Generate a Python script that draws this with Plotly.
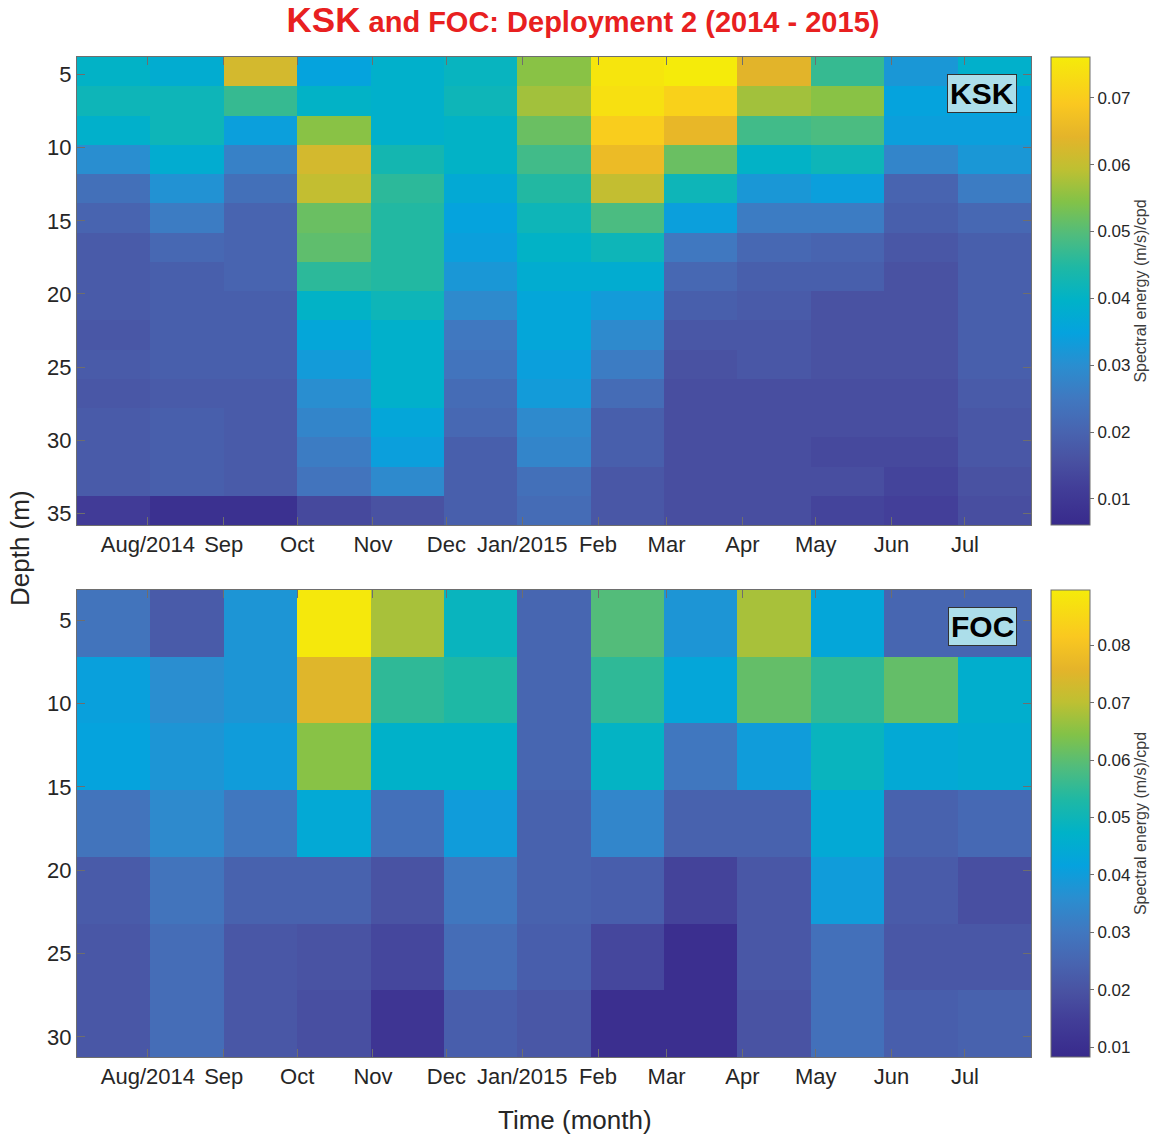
import plotly.graph_objects as go

# ---------------- data ----------------
months = ["2014-07-18", "2014-08-17", "2014-09-16", "2014-10-16", "2014-11-15",
          "2014-12-15", "2015-01-14", "2015-02-13", "2015-03-15", "2015-04-14",
          "2015-05-14", "2015-06-13", "2015-07-13"]

ksk_depth = [4.8, 6.8, 8.8, 10.8, 12.8, 14.8, 16.8, 18.8, 20.8, 22.8, 24.8,
             26.8, 28.8, 30.8, 32.8, 34.8]
foc_depth = [5.2, 9.2, 13.2, 17.2, 21.2, 25.2, 29.2]

ksk_energy = [
    [0.040, 0.038, 0.062, 0.035, 0.039, 0.041, 0.055, 0.075, 0.076, 0.064, 0.047, 0.032, 0.039],
    [0.042, 0.042, 0.047, 0.040, 0.039, 0.042, 0.057, 0.074, 0.071, 0.057, 0.055, 0.035, 0.035],
    [0.039, 0.042, 0.034, 0.055, 0.039, 0.040, 0.052, 0.070, 0.065, 0.048, 0.049, 0.034, 0.034],
    [0.030, 0.038, 0.027, 0.062, 0.043, 0.040, 0.048, 0.066, 0.052, 0.040, 0.042, 0.028, 0.032],
    [0.023, 0.031, 0.023, 0.060, 0.046, 0.037, 0.045, 0.060, 0.042, 0.032, 0.034, 0.020, 0.026],
    [0.020, 0.026, 0.020, 0.052, 0.045, 0.035, 0.042, 0.049, 0.034, 0.026, 0.026, 0.019, 0.021],
    [0.018, 0.021, 0.020, 0.051, 0.045, 0.034, 0.040, 0.042, 0.025, 0.021, 0.020, 0.017, 0.019],
    [0.018, 0.019, 0.020, 0.046, 0.045, 0.032, 0.038, 0.038, 0.021, 0.019, 0.019, 0.016, 0.019],
    [0.018, 0.019, 0.019, 0.040, 0.042, 0.029, 0.036, 0.033, 0.019, 0.018, 0.016, 0.016, 0.019],
    [0.017, 0.019, 0.019, 0.036, 0.039, 0.025, 0.036, 0.029, 0.017, 0.017, 0.016, 0.016, 0.019],
    [0.018, 0.019, 0.019, 0.033, 0.039, 0.024, 0.034, 0.026, 0.016, 0.017, 0.016, 0.016, 0.019],
    [0.017, 0.018, 0.018, 0.030, 0.039, 0.022, 0.033, 0.022, 0.015, 0.015, 0.015, 0.015, 0.018],
    [0.018, 0.019, 0.018, 0.028, 0.036, 0.021, 0.029, 0.019, 0.015, 0.015, 0.015, 0.015, 0.017],
    [0.018, 0.019, 0.018, 0.026, 0.034, 0.019, 0.028, 0.019, 0.015, 0.015, 0.014, 0.014, 0.017],
    [0.018, 0.019, 0.018, 0.024, 0.029, 0.019, 0.023, 0.017, 0.015, 0.015, 0.015, 0.013, 0.016],
    [0.011, 0.008, 0.008, 0.014, 0.016, 0.019, 0.022, 0.017, 0.015, 0.015, 0.013, 0.012, 0.015],
]

foc_energy = [
    [0.029, 0.022, 0.038, 0.089, 0.068, 0.049, 0.025, 0.059, 0.038, 0.068, 0.043, 0.025, 0.025],
    [0.041, 0.036, 0.038, 0.075, 0.055, 0.053, 0.025, 0.055, 0.043, 0.061, 0.055, 0.061, 0.046],
    [0.042, 0.038, 0.040, 0.065, 0.047, 0.047, 0.025, 0.048, 0.030, 0.040, 0.049, 0.044, 0.045],
    [0.029, 0.035, 0.030, 0.044, 0.028, 0.040, 0.024, 0.034, 0.024, 0.024, 0.044, 0.024, 0.026],
    [0.022, 0.029, 0.024, 0.024, 0.020, 0.030, 0.024, 0.023, 0.016, 0.021, 0.040, 0.022, 0.019],
    [0.021, 0.027, 0.021, 0.020, 0.017, 0.027, 0.023, 0.017, 0.010, 0.021, 0.028, 0.021, 0.021],
    [0.021, 0.027, 0.021, 0.019, 0.012, 0.023, 0.021, 0.010, 0.010, 0.020, 0.028, 0.023, 0.024],
]

ksk_range = [0.0061, 0.0761]
foc_range = [0.0083, 0.0896]
ksk_cticks = [0.01, 0.02, 0.03, 0.04, 0.05, 0.06, 0.07]
foc_cticks = [0.01, 0.02, 0.03, 0.04, 0.05, 0.06, 0.07, 0.08]
ksk_yticks = [5, 10, 15, 20, 25, 30, 35]
foc_yticks = [5, 10, 15, 20, 25, 30]
month_ticks = ["2014-08-01", "2014-09-01", "2014-10-01", "2014-11-01", "2014-12-01",
               "2015-01-01", "2015-02-01", "2015-03-01", "2015-04-01", "2015-05-01",
               "2015-06-01", "2015-07-01"]
month_labels = ["Aug/2014", "Sep", "Oct", "Nov", "Dec", "Jan/2015", "Feb", "Mar",
                "Apr", "May", "Jun", "Jul"]

# ---------------- style ----------------
parula_like = [
    [0.00, "rgb(56,42,140)"],
    [0.08, "rgb(66,62,152)"],
    [0.14, "rgb(73,82,162)"],
    [0.20, "rgb(72,100,176)"],
    [0.27, "rgb(64,120,192)"],
    [0.34, "rgb(42,142,208)"],
    [0.41, "rgb(5,162,222)"],
    [0.48, "rgb(0,178,200)"],
    [0.55, "rgb(30,184,165)"],
    [0.62, "rgb(80,188,125)"],
    [0.69, "rgb(130,194,72)"],
    [0.76, "rgb(190,192,50)"],
    [0.83, "rgb(228,180,42)"],
    [0.90, "rgb(250,200,32)"],
    [1.00, "rgb(245,235,10)"],
]
FONT = "Liberation Sans Narrow, Arial Narrow, Liberation Sans, Arial, sans-serif"
TXT = "rgb(38,38,38)"
AX = "rgb(110,110,110)"

W, H = 1166, 1135
L, R, T, B = 77, 135, 57, 78
PH = H - T - B
top_dom = [1 - (525 - 57) / PH, 1.0]
bot_dom = [0.0, (1057 - 590) / PH]


def cbar(dom, ticks):
    return dict(
        x=(1051 - L) / (W - L - R), xanchor="left", xpad=0, ypad=0,
        y=(dom[0] + dom[1]) / 2, yanchor="middle",
        len=dom[1] - dom[0], lenmode="fraction",
        thickness=39, thicknessmode="pixels",
        outlinecolor=AX, outlinewidth=1,
        tickvals=ticks, tickformat=".2f",
        ticks="outside", ticklen=4, tickcolor=AX,
        tickfont=dict(family=FONT, size=17, color=TXT),
        title=dict(text="Spectral energy (m/s)/cpd", side="right",
                   font=dict(family=FONT, size=16, color="rgb(60,60,60)")),
    )


fig = go.Figure()
fig.add_trace(go.Heatmap(
    x=months, y=ksk_depth, z=ksk_energy, colorscale=parula_like,
    zmin=ksk_range[0], zmax=ksk_range[1], xaxis="x", yaxis="y",
    colorbar=cbar(top_dom, ksk_cticks),
))
fig.add_trace(go.Heatmap(
    x=months, y=foc_depth, z=foc_energy, colorscale=parula_like,
    zmin=foc_range[0], zmax=foc_range[1], xaxis="x2", yaxis="y2",
    colorbar=cbar(bot_dom, foc_cticks),
))

xcommon = dict(
    tickvals=month_ticks, ticktext=month_labels, ticks="inside", ticklen=8,
    tickcolor=AX, showline=True, linecolor=AX, linewidth=1, mirror="ticks",
    tickfont=dict(family=FONT, size=22, color=TXT), showgrid=False, zeroline=False,
)
ycommon = dict(
    autorange="reversed", ticks="inside", ticklen=8, tickcolor=AX,
    showline=True, linecolor=AX, linewidth=1, mirror="ticks",
    tickfont=dict(family=FONT, size=22, color=TXT), showgrid=False, zeroline=False,
)

fig.update_layout(
    width=W, height=H,
    margin=dict(l=L, r=R, t=T, b=B),
    paper_bgcolor="white", plot_bgcolor="white",
    showlegend=False,
    xaxis=dict(domain=[0, 1], anchor="y", **xcommon),
    yaxis=dict(domain=top_dom, anchor="x", tickvals=ksk_yticks, **ycommon),
    xaxis2=dict(domain=[0, 1], anchor="y2", **xcommon),
    yaxis2=dict(domain=bot_dom, anchor="x2", tickvals=foc_yticks, **ycommon),
    title=dict(
        text="<b><span style='font-size:35px'>KSK</span> and FOC: Deployment 2 (2014 - 2015)</b>",
        x=0.5, xanchor="center", y=1 - 22 / H, yanchor="middle",
        font=dict(family=FONT, size=29, color="rgb(232,32,32)"),
    ),
    annotations=[
        dict(text="<b>KSK</b>", xref="x domain", yref="y domain",
             x=(1017 - L) / (1031 - L), y=1 - (74 - 57) / 468,
             xanchor="right", yanchor="top", showarrow=False,
             font=dict(family="Liberation Sans, Arial, sans-serif", size=30, color="black"),
             bgcolor="rgb(172,222,234)", bordercolor="rgb(50,50,50)", borderwidth=1,
             borderpad=2),
        dict(text="<b>FOC</b>", xref="x2 domain", yref="y2 domain",
             x=(1017 - L) / (1031 - L), y=1 - (607 - 590) / 467,
             xanchor="right", yanchor="top", showarrow=False,
             font=dict(family="Liberation Sans, Arial, sans-serif", size=30, color="black"),
             bgcolor="rgb(172,222,234)", bordercolor="rgb(50,50,50)", borderwidth=1,
             borderpad=2),
        dict(text="Depth (m)", xref="paper", yref="paper",
             x=-(L - 20) / (W - L - R), y=(1057 - 548) / PH,
             xanchor="center", yanchor="middle", textangle=-90, showarrow=False,
             font=dict(family=FONT, size=26, color=TXT)),
        dict(text="Time (month)", xref="paper", yref="paper",
             x=(575 - L) / (W - L - R), y=-(1120 - 1057) / PH,
             xanchor="center", yanchor="middle", showarrow=False,
             font=dict(family=FONT, size=26, color=TXT)),
    ],
)

fig.write_html("out.html")
